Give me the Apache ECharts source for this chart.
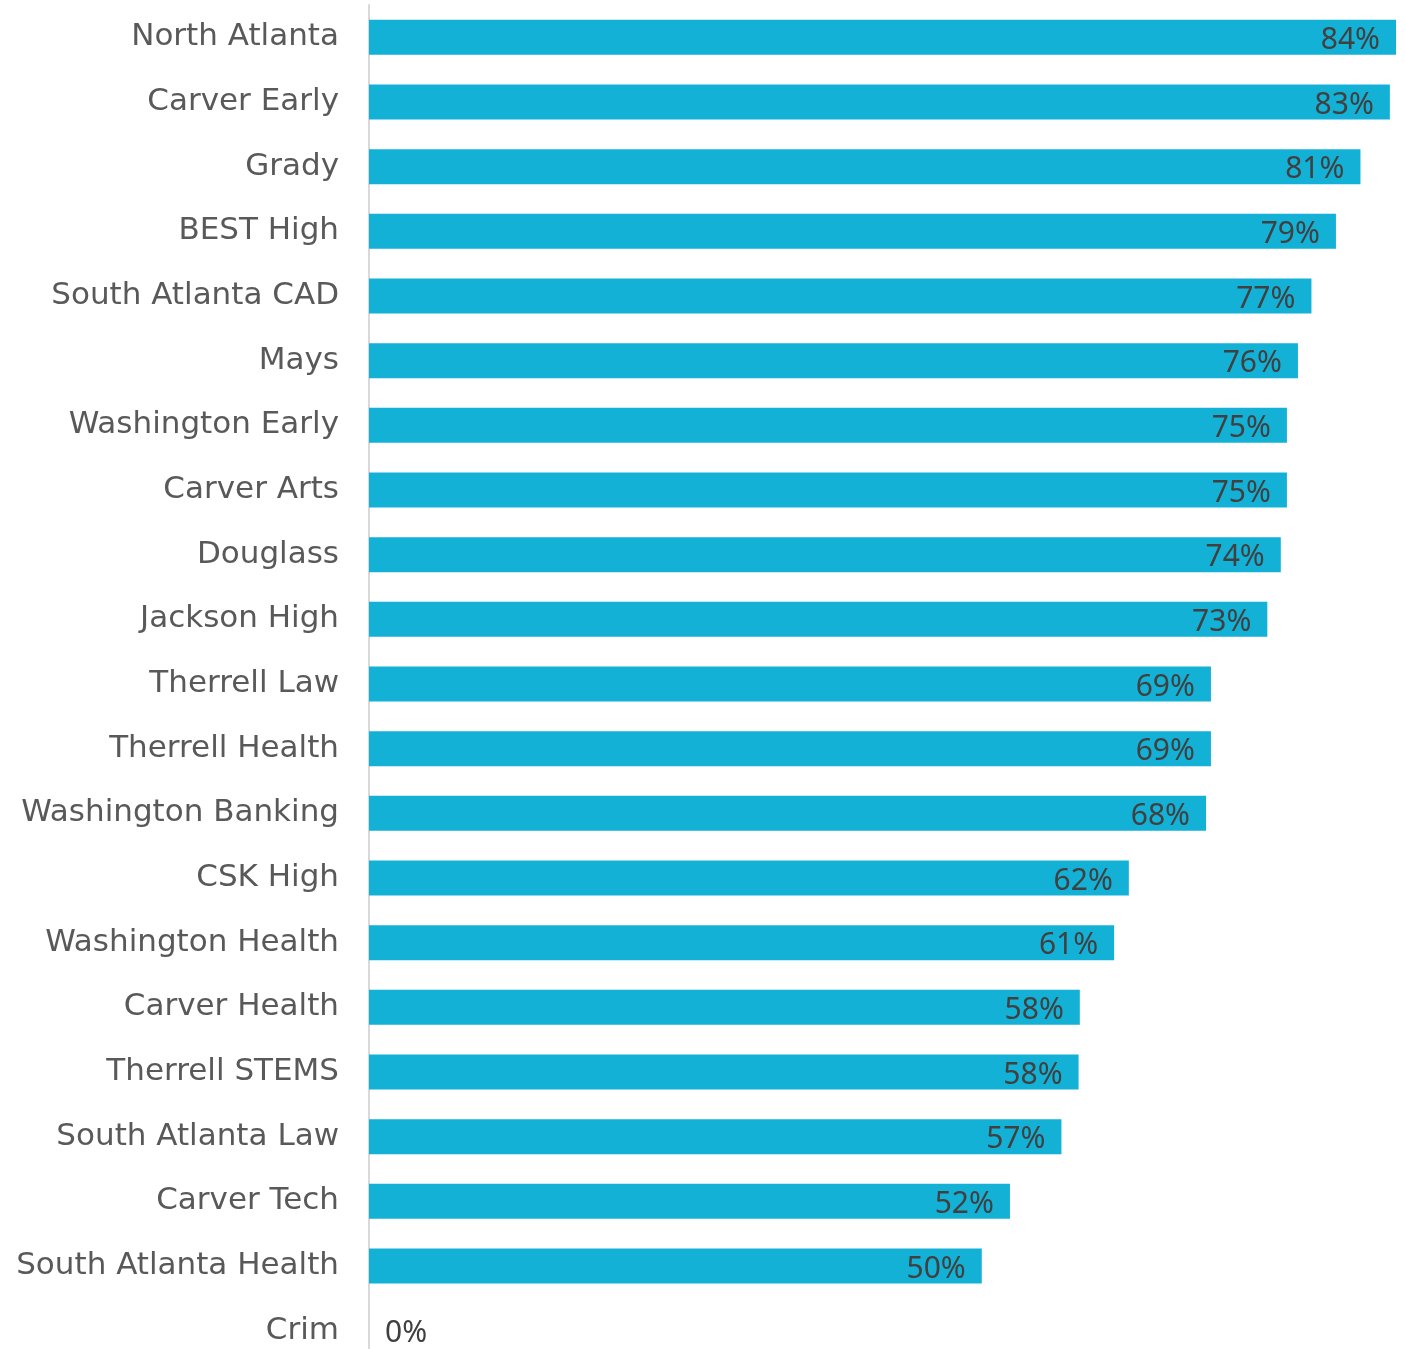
<!DOCTYPE html>
<html>
<head>
<meta charset="utf-8">
<script src="https://cdn.jsdelivr.net/npm/echarts@6/dist/echarts.min.js"></script>
<style>
  html, body { margin: 0; padding: 0; background: #fff; }
  #main { width: 1405px; height: 1349px; }
</style>
</head>
<body>
<div id="main"></div>
<script>
// schools, top to bottom
var schools = [
  'North Atlanta', 'Carver Early', 'Grady', 'BEST High', 'South Atlanta CAD',
  'Mays', 'Washington Early', 'Carver Arts', 'Douglass', 'Jackson High',
  'Therrell Law', 'Therrell Health', 'Washington Banking', 'CSK High',
  'Washington Health', 'Carver Health', 'Therrell STEMS', 'South Atlanta Law',
  'Carver Tech', 'South Atlanta Health', 'Crim'
];
// percent values (labels show them rounded)
var rates = [83.8, 83.3, 80.9, 78.9, 76.9, 75.8, 74.9, 74.9, 74.4, 73.3,
             68.7, 68.7, 68.3, 62.0, 60.8, 58.0, 57.9, 56.5, 52.3, 50.0, 0];

var chart = echarts.init(document.getElementById('main'));

var seriesData = rates.map(function (v) {
  if (v === 0) {
    return { value: v, label: { position: 'right', distance: 16 } };
  }
  return v;
});

var option = {
  animation: false,
  grid: { left: 369, top: 5, width: 1027, height: 1358, outerBoundsMode: 'none' },
  xAxis: {
    type: 'value',
    min: 0,
    max: 83.8,
    show: false
  },
  yAxis: {
    type: 'category',
    inverse: true,
    data: schools,
    axisLine: { show: true, lineStyle: { color: '#d9d9d9', width: 2 } },
    axisTick: { show: false },
    axisLabel: {
      color: '#595959',
      fontSize: 31,
      fontFamily: 'DejaVu Sans',
      margin: 30
    }
  },
  series: [{
    type: 'bar',
    data: seriesData,
    barWidth: 35,
    itemStyle: { color: '#14b1d7' },
    label: {
      show: true,
      position: 'insideRight',
      distance: 16,
      offset: [0, 3],
      formatter: function (p) { return Math.round(p.value) + '%'; },
      color: '#404040',
      fontSize: 30,
      fontFamily: 'Noto Sans'
    }
  }]
};

chart.setOption(option);
</script>
</body>
</html>
